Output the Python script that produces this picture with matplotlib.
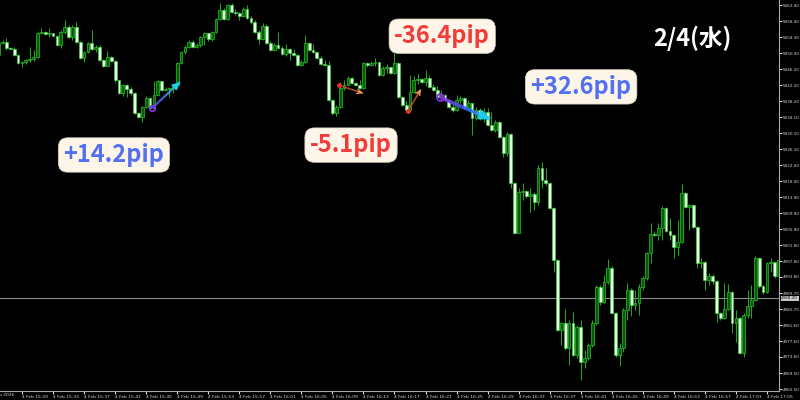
import matplotlib
matplotlib.use("Agg")
import matplotlib.pyplot as plt
import numpy as np
import pandas as pd
from matplotlib.collections import LineCollection
from matplotlib.colors import LinearSegmentedColormap

# 30 second candles, 4 Feb 2026 from 15:26:00
first_open = 5049.8
close = [
    5052.8, 5053.1, 5051.6, 5051.4, 5049.8, 5047.8, 5048.0, 5048.5, 5048.9, 5049.3,
    5055.4, 5055.6, 5055.1, 5055.4, 5054.7, 5052.3, 5055.6, 5056.9, 5054.4, 5056.9,
    5053.1, 5049.1, 5050.6, 5052.8, 5051.3, 5051.8, 5048.5, 5047.0, 5049.3, 5048.3,
    5043.5, 5040.2, 5042.2, 5041.2, 5040.2, 5035.2, 5034.2, 5036.7, 5039.0, 5036.4,
    5039.7, 5043.2, 5041.0, 5041.2, 5041.5, 5042.2, 5047.8, 5050.6, 5051.8, 5053.1,
    5051.8, 5052.3, 5054.4, 5055.4, 5053.9, 5055.6, 5058.9, 5061.2, 5058.9, 5062.4,
    5060.7, 5060.4, 5059.7, 5061.4, 5059.2, 5058.1, 5055.6, 5053.9, 5057.1, 5052.8,
    5051.1, 5052.3, 5051.6, 5050.1, 5051.3, 5050.3, 5049.8, 5047.3, 5048.0, 5052.8,
    5051.1, 5050.6, 5049.1, 5047.5, 5047.3, 5038.5, 5035.2, 5036.7, 5041.5, 5042.2,
    5044.0, 5042.7, 5042.2, 5041.5, 5047.8, 5047.3, 5047.8, 5048.0, 5044.8, 5046.5,
    5046.8, 5045.3, 5047.8, 5039.2, 5037.2, 5035.9, 5040.5, 5043.5, 5043.7, 5043.0,
    5044.0, 5041.7, 5041.0, 5039.2, 5039.7, 5038.5, 5036.7, 5035.9, 5038.5, 5039.0,
    5036.4, 5037.7, 5033.9, 5035.9, 5033.9, 5035.4, 5032.1, 5030.9, 5032.9, 5029.1,
    5025.1, 5029.9, 5017.5, 5004.9, 5015.2, 5015.5, 5014.2, 5014.7, 5012.7, 5021.3,
    5018.2, 5017.5, 5011.2, 4998.0, 4980.4, 4982.1, 4975.8, 4982.1, 4974.1, 4981.1,
    4972.3, 4973.3, 4976.6, 4982.1, 4991.2, 4987.4, 4992.5, 4996.0, 4984.7, 4974.1,
    4975.8, 4985.4, 4990.5, 4986.7, 4987.2, 4991.2, 4993.5, 4999.8, 5004.6, 5004.4,
    5006.1, 5011.2, 5005.4, 5004.4, 5001.3, 5002.6, 5015.0, 5011.4, 5011.9, 5006.4,
    4997.3, 4997.5, 4993.0, 4994.0, 4992.7, 4984.7, 4983.4, 4985.7, 4990.0, 4982.1,
    4983.4, 4974.6, 4984.2, 4986.4, 4988.0, 4998.6, 4991.5, 4990.0, 4997.3, 4997.5,
    4994.0, 4998.0,
]
high = [
    5053.6, 5053.6, 5054.1, 5051.8, 5051.8, 5050.1, 5048.3, 5048.8, 5051.8, 5051.1,
    5055.6, 5056.6, 5055.9, 5056.6, 5055.4, 5054.9, 5056.1, 5058.6, 5057.4, 5057.4,
    5058.1, 5053.3, 5050.8, 5053.1, 5056.1, 5052.3, 5052.3, 5048.8, 5050.8, 5049.6,
    5048.5, 5043.5, 5042.5, 5042.5, 5041.7, 5040.5, 5035.4, 5036.9, 5039.5, 5039.2,
    5043.2, 5043.5, 5043.2, 5041.7, 5041.7, 5042.5, 5048.0, 5050.8, 5052.3, 5053.6,
    5053.6, 5052.8, 5054.6, 5055.6, 5054.6, 5055.9, 5059.2, 5062.9, 5061.7, 5062.7,
    5062.9, 5061.4, 5060.7, 5061.9, 5062.4, 5059.7, 5058.6, 5056.1, 5057.9, 5057.6,
    5053.3, 5052.8, 5055.6, 5052.1, 5052.6, 5051.6, 5051.3, 5050.1, 5048.5, 5054.9,
    5053.1, 5052.6, 5050.6, 5049.6, 5048.5, 5048.3, 5038.7, 5037.2, 5043.0, 5043.5,
    5044.5, 5044.3, 5043.0, 5043.5, 5048.0, 5048.0, 5048.3, 5049.1, 5048.0, 5047.0,
    5047.5, 5046.8, 5050.3, 5048.0, 5039.5, 5038.2, 5044.8, 5044.5, 5045.0, 5044.0,
    5046.0, 5044.8, 5042.5, 5042.0, 5041.0, 5040.0, 5038.7, 5038.2, 5039.7, 5039.5,
    5039.2, 5038.5, 5037.4, 5036.7, 5036.4, 5036.4, 5036.4, 5035.4, 5033.4, 5033.1,
    5029.4, 5030.4, 5030.1, 5017.7, 5016.2, 5017.5, 5015.7, 5016.2, 5015.2, 5022.0,
    5022.8, 5021.3, 5017.7, 5011.4, 4998.3, 4982.4, 4985.7, 4982.9, 4984.9, 4981.6,
    4982.9, 4975.3, 4977.1, 4982.9, 4991.7, 4991.7, 4994.3, 4998.3, 4996.5, 4984.9,
    4977.1, 4985.9, 4992.2, 4991.0, 4990.5, 4992.0, 4994.0, 5000.1, 5007.4, 5005.4,
    5007.4, 5011.7, 5011.4, 5008.6, 5004.6, 5008.1, 5017.2, 5015.2, 5012.2, 5012.2,
    5006.6, 4998.6, 4997.8, 4994.8, 4994.5, 4993.0, 4984.9, 4992.2, 4992.0, 4990.2,
    4985.4, 4983.7, 4984.7, 4990.5, 4991.7, 4999.1, 4998.8, 4991.7, 4997.5, 4998.6,
    4997.0, 5000.1,
]
low = [
    5049.6, 5052.6, 5051.1, 5051.3, 5049.6, 5047.5, 5046.8, 5047.5, 5048.0, 5048.3,
    5049.1, 5055.1, 5054.9, 5054.4, 5054.6, 5052.1, 5051.6, 5055.1, 5054.1, 5053.6,
    5052.8, 5048.8, 5048.0, 5050.3, 5051.1, 5050.6, 5048.3, 5046.8, 5047.0, 5048.0,
    5043.0, 5040.0, 5039.5, 5039.2, 5039.7, 5034.9, 5033.9, 5032.9, 5036.4, 5036.2,
    5036.2, 5039.5, 5040.7, 5041.0, 5039.2, 5040.2, 5042.0, 5047.5, 5050.1, 5051.6,
    5051.6, 5051.6, 5051.8, 5052.3, 5053.3, 5053.3, 5055.4, 5058.6, 5058.6, 5058.6,
    5060.4, 5059.9, 5058.6, 5059.4, 5058.9, 5057.6, 5055.4, 5052.6, 5053.6, 5052.6,
    5050.8, 5050.8, 5051.3, 5049.8, 5049.6, 5048.5, 5049.6, 5047.0, 5047.0, 5047.8,
    5050.8, 5050.3, 5048.8, 5047.3, 5047.0, 5038.2, 5034.7, 5034.4, 5036.4, 5041.0,
    5042.0, 5042.5, 5042.0, 5041.2, 5041.2, 5046.8, 5047.0, 5047.0, 5044.5, 5044.5,
    5045.3, 5045.0, 5045.0, 5039.0, 5036.9, 5035.4, 5035.7, 5040.2, 5042.5, 5042.7,
    5042.0, 5041.5, 5040.7, 5039.0, 5038.2, 5038.2, 5036.4, 5035.4, 5035.7, 5037.7,
    5036.2, 5035.9, 5029.6, 5033.4, 5033.4, 5032.9, 5031.9, 5030.6, 5030.4, 5028.9,
    5024.1, 5024.3, 5016.2, 5004.6, 5004.9, 5013.2, 5013.7, 5010.2, 5010.7, 5011.9,
    5016.2, 5017.0, 5010.9, 4995.0, 4980.1, 4976.6, 4975.3, 4971.5, 4973.8, 4973.3,
    4967.7, 4970.8, 4972.8, 4976.1, 4981.6, 4986.7, 4987.2, 4992.0, 4984.4, 4973.6,
    4971.3, 4974.8, 4982.9, 4983.9, 4985.4, 4984.2, 4990.5, 4993.0, 4997.3, 5004.1,
    5003.1, 5003.1, 5005.1, 5003.1, 4998.6, 4999.3, 5002.3, 5011.2, 5005.6, 5006.1,
    4996.0, 4996.0, 4990.5, 4991.7, 4992.0, 4982.4, 4982.9, 4983.2, 4985.4, 4979.6,
    4977.3, 4974.3, 4973.6, 4983.4, 4983.4, 4987.7, 4991.0, 4989.5, 4989.7, 4995.0,
    4993.5, 4993.8,
]

price_ticks = [5062.40, 5058.40, 5054.30, 5050.30, 5046.20, 5042.20, 5038.20, 5034.10,
               5030.10, 5026.10, 5022.00, 5018.00, 5013.90, 5009.90, 5005.90, 5001.80,
               4997.80, 4993.80, 4989.70, 4985.70, 4981.60, 4977.60, 4973.60, 4969.50,
               4965.50]
level_price = 4988.40

# trade arrows: start candle, start price, end candle, end price
arrow_start_x = [39.5, 87.7, 105.5, 113.7]
arrow_start_y = [5036.4, 5042.2, 5035.7, 5039.2]
arrow_end_x = [46.7, 93.9, 108.8, 126.6]
arrow_end_y = [5043.0, 5040.2, 5041.2, 5033.7]

pip_texts = ["+14.2pip", "-5.1pip", "-36.4pip", "+32.6pip"]
pip_x = [29.7, 90.8, 114.3, 150.1]
pip_y = [5024.6, 5027.1, 5054.6, 5041.8]

BLUE = "#5470f2"
RED = "#f23c3c"
JP = ["Noto Sans CJK JP", "DejaVu Sans"]

o = np.array([first_open] + close[:-1])
c = np.array(close)
h = np.array(high)
l = np.array(low)
x = np.arange(len(c))
times = pd.date_range("2026-02-04 15:26:00", periods=len(c), freq="30s")

fig = plt.figure(figsize=(8, 4), dpi=100, facecolor="black")
ax = fig.add_axes([0, 9 / 400, 779 / 800, 391 / 400])
ax.set_facecolor("black")

ax.axhline(level_price, color="#8a8a8a", lw=0.8, zorder=1)

ax.vlines(x, l, h, color="#1fae1f", lw=0.7, zorder=2)
up = c >= o
dn = ~up
ax.bar(x[up], np.maximum(c[up] - o[up], 0.2), bottom=o[up], width=0.72,
       color="#0b5a0b", edgecolor="#26c426", linewidth=0.5, zorder=3)
ax.bar(x[dn], np.maximum(o[dn] - c[dn], 0.2), bottom=c[dn], width=0.72,
       color="#e4ffe4", edgecolor="#3ccc3c", linewidth=0.5, zorder=3)

# arrows with colour gradient
grad = [["#7b35e0", "#3c8ff0", "#1fd0ea"],
        ["#e2331f", "#ee6a35", "#f4954f"],
        ["#e2331f", "#ee6a35", "#f4954f"],
        ["#8a2be2", "#3a5cf0", "#1ec8f0"]]
widths = [1.6, 1.0, 1.0, 2.6]
for k in range(4):
    x0, y0, x1, y1 = arrow_start_x[k], arrow_start_y[k], arrow_end_x[k], arrow_end_y[k]
    t = np.linspace(0, 1, 40)
    px = x0 + (x1 - x0) * t
    py = y0 + (y1 - y0) * t
    segs = np.stack([np.column_stack([px[:-1], py[:-1]]),
                     np.column_stack([px[1:], py[1:]])], axis=1)
    cmap = LinearSegmentedColormap.from_list("g%d" % k, grad[k])
    lc = LineCollection(segs, colors=cmap(t[:-1]), linewidths=widths[k], zorder=5)
    ax.add_collection(lc)
    ax.annotate("", xy=(x1, y1), xytext=(x0 + (x1 - x0) * 0.8, y0 + (y1 - y0) * 0.8),
                arrowprops=dict(arrowstyle="->", color=grad[k][-1], lw=widths[k],
                                mutation_scale=6 + 2 * widths[k], shrinkA=0, shrinkB=0),
                zorder=6)
    if k in (0, 3):
        ax.plot(x0, y0, "o", ms=4 if k == 0 else 5, mfc="none", mec=grad[k][0],
                mew=1.3, zorder=7)
    else:
        ax.plot(x0, y0, "o", ms=2.5, color=grad[k][0], zorder=7)

for txt, tx, ty in zip(pip_texts, pip_x, pip_y):
    ax.text(tx, ty, txt, ha="center", va="center", fontsize=17, fontweight="bold",
            family=JP, color=BLUE if txt.startswith("+") else RED, zorder=8,
            bbox=dict(boxstyle="round,pad=0.22,rounding_size=0.4", fc="#fdf6e8",
                      ec="#d8d0c0", lw=0.5))

fig.text(0.865, 0.905, "2/4(水)", ha="center", va="center", fontsize=17,
         fontweight="bold", color="white", family=JP)

ax.set_xlim(0.335, 201.1)
ax.set_ylim(4965.0, 5063.74)

for s in ["top", "left"]:
    ax.spines[s].set_visible(False)
for s in ["right", "bottom"]:
    ax.spines[s].set_color("#a8a8a8")
    ax.spines[s].set_linewidth(0.8)

ax.yaxis.tick_right()
ax.set_yticks(price_ticks)
ax.set_yticklabels(["%.2f" % v for v in price_ticks])
ax.tick_params(axis="y", length=2, pad=0.5, labelsize=3.0, colors="#d8d8d8")

tick_idx = list(range(6, len(c), 8))
ax.set_xticks(tick_idx)
ax.set_xticklabels([f"{times[i].day} {times[i]:%b %H:%M}" for i in tick_idx], ha="left")
ax.tick_params(axis="x", length=2, pad=1, labelsize=3.2, colors="#d8d8d8")

ax.text(1.003, level_price, "%.2f" % level_price, transform=ax.get_yaxis_transform(),
        ha="left", va="center", fontsize=3.0, color="#202020",
        bbox=dict(boxstyle="square,pad=0.15", fc="#c8c8c8", ec="none"))
fig.text(14 / 800, 5 / 400, "4 Feb 2026", ha="right", va="center", fontsize=3.2,
         color="#d8d8d8")

fig.savefig("out.png", dpi=100, facecolor="black")
